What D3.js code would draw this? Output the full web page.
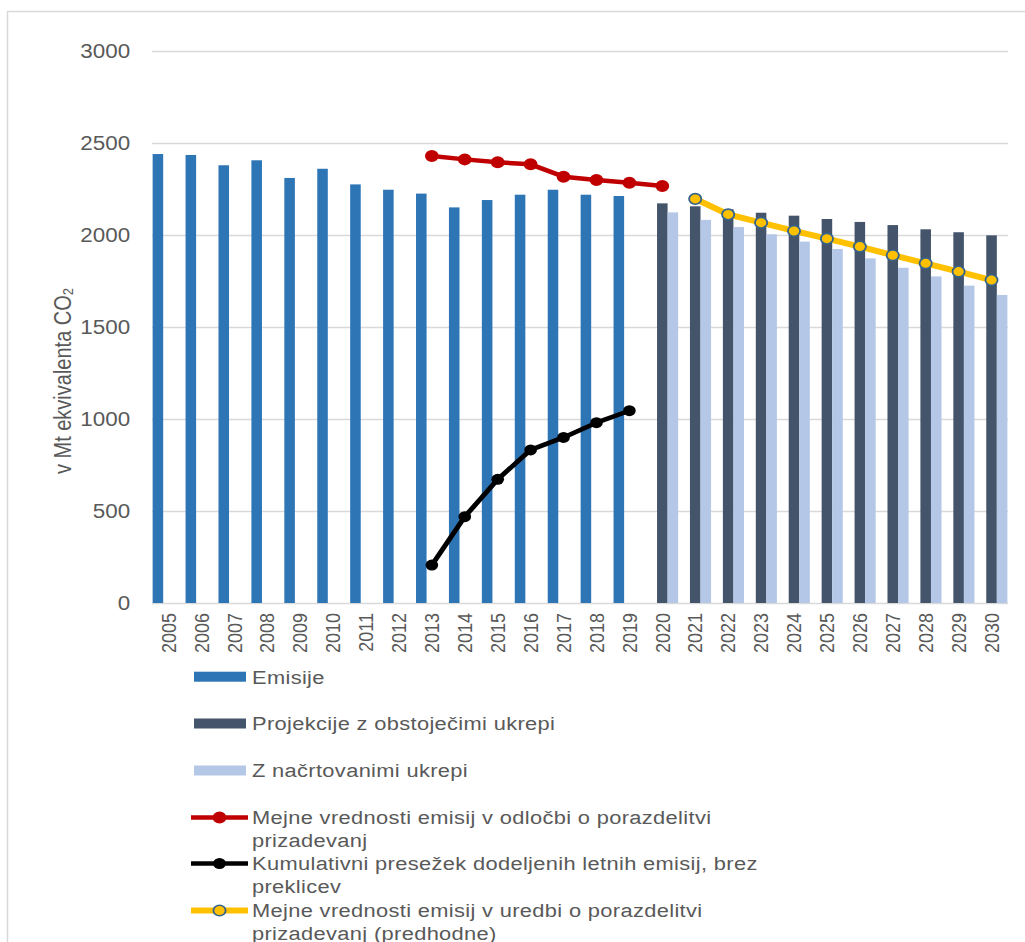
<!DOCTYPE html>
<html>
<head>
<meta charset="utf-8">
<script src="https://cdn.jsdelivr.net/npm/d3@7"></script>
<style>
  body { margin: 0; background: #fff; }
  text { font-family: "Liberation Sans", Arial, sans-serif; fill: #595959; }
</style>
</head>
<body>
<div id="chart"></div>
<script>
// categories
var years = ["2005", "2006", "2007", "2008", "2009", "2010", "2011", "2012", "2013",
    "2014", "2015", "2016", "2017", "2018", "2019", "2020", "2021", "2022", "2023",
    "2024", "2025", "2026", "2027", "2028", "2029", "2030"];
var yTicks = [0, 500, 1000, 1500, 2000, 2500, 3000];

// bar series
var emisijeYears = ["2005", "2006", "2007", "2008", "2009", "2010", "2011", "2012",
    "2013", "2014", "2015", "2016", "2017", "2018", "2019"];
var emisije = [2440, 2435, 2379, 2406, 2310, 2360, 2275, 2246, 2225, 2150, 2190, 2219, 2246, 2219, 2212];

var projYears = ["2020", "2021", "2022", "2023", "2024", "2025", "2026", "2027", "2028", "2029", "2030"];
var projekcije = [2172, 2156, 2140, 2121, 2105, 2087, 2071, 2054, 2031, 2015, 1998];
var nacrtovani = [2123, 2082, 2043, 2004, 1964, 1924, 1873, 1822, 1775, 1725, 1674];

// line series
var odlocbaYears = ["2013", "2014", "2015", "2016", "2017", "2018", "2019", "2020"];
var odlocba = [2429, 2411, 2395, 2384, 2317, 2299, 2284, 2266];

var presezekYears = ["2013", "2014", "2015", "2016", "2017", "2018", "2019"];
var presezek = [206, 469, 672, 832, 900, 980, 1045];

var uredbaYears = ["2021", "2022", "2023", "2024", "2025", "2026", "2027", "2028", "2029", "2030"];
var uredba = [2196, 2112, 2067, 2022, 1980, 1937, 1890, 1846, 1801, 1755];

var barKeys = ["emisije", "projekcije", "nacrtovani"];

var width = 1025;
var height = 942;
var S = 1.15; // the picture is stretched sideways
var left = 152, right = 1008;

var svg = d3.select("#chart")
    .append("svg")
    .attr("width", width)
    .attr("height", height);

// outer frame
svg.append("rect")
    .attr("x", 7.5).attr("y", 11.5)
    .attr("width", 1040).attr("height", 960)
    .attr("fill", "none")
    .attr("stroke", "#d9d9d9")
    .attr("stroke-width", 1.5);

var g = svg.append("g").attr("transform", `scale(${S},1)`);

var x0 = d3.scaleBand().domain(years).range([left / S, right / S]);
var x1 = d3.scaleBand().domain(barKeys).range([0, x0.bandwidth()]).paddingOuter(0.06);
var y = d3.scaleLinear().domain([0, 3000]).range([603, 51]);

// y axis with gridlines
var yAxis = g.append("g")
    .attr("transform", `translate(${left / S},0)`)
    .call(d3.axisLeft(y).tickValues(yTicks).tickFormat(d3.format("d"))
        .tickSize(-(right - left) / S).tickPadding(19));
yAxis.select(".domain").remove();
yAxis.selectAll(".tick line").attr("stroke", "#d9d9d9").attr("stroke-width", 1.6);
yAxis.selectAll(".tick text")
    .attr("font-size", 19.5)
    .attr("fill", "#595959")
    .style("font-family", "'Liberation Sans', Arial, sans-serif");

// x axis labels
var xAxis = g.append("g")
    .attr("transform", "translate(0,603)")
    .call(d3.axisBottom(x0).tickSize(0));
xAxis.select(".domain").remove();
xAxis.selectAll(".tick text")
    .attr("font-size", 18)
    .attr("fill", "#595959")
    .style("font-family", "'Liberation Sans', Arial, sans-serif")
    .attr("transform", "rotate(-90)")
    .attr("x", -10)
    .attr("y", 0)
    .attr("dy", "0.35em")
    .style("text-anchor", "end");

// y axis title
var yTitle = g.append("text")
    .attr("transform", `translate(${62 / S},381) rotate(-90)`)
    .attr("text-anchor", "middle")
    .attr("dominant-baseline", "central")
    .attr("font-size", 20);
yTitle.append("tspan").text("v Mt ekvivalenta CO");
yTitle.append("tspan").attr("font-size", 13).attr("dy", 5).text("2");

// bars
var barSeries = [
    {key: "emisije", yrs: emisijeYears, vals: emisije, color: "#2e75b6"},
    {key: "projekcije", yrs: projYears, vals: projekcije, color: "#44546a"},
    {key: "nacrtovani", yrs: projYears, vals: nacrtovani, color: "#b4c7e7"}
];

barSeries.forEach(function (s) {
    var rows = s.yrs.map(function (yr, i) { return {year: yr, value: s.vals[i]}; });
    g.append("g").selectAll("rect")
        .data(rows).enter()
        .append("rect")
        .attr("x", function (d) { return x0(d.year) + x1(s.key); })
        .attr("width", x1.bandwidth())
        .attr("y", function (d) { return y(d.value); })
        .attr("height", function (d) { return y(0) - y(d.value); })
        .attr("fill", s.color);
});

// lines
var lineSeries = [
    {yrs: odlocbaYears, vals: odlocba, color: "#c00000", width: 4.5, r: 6, fill: "#c00000", stroke: "none"},
    {yrs: presezekYears, vals: presezek, color: "#000000", width: 4.5, r: 5.5, fill: "#000000", stroke: "none"},
    {yrs: uredbaYears, vals: uredba, color: "#ffc000", width: 6, r: 5.3, fill: "#ffc000", stroke: "#35648e"}
];

var line = d3.line()
    .x(function (d) { return x0(d.year) + x0.bandwidth() / 2; })
    .y(function (d) { return y(d.value); });

lineSeries.forEach(function (s) {
    var rows = s.yrs.map(function (yr, i) { return {year: yr, value: s.vals[i]}; });
    g.append("path")
        .datum(rows)
        .attr("d", line)
        .attr("fill", "none")
        .attr("stroke", s.color)
        .attr("stroke-width", s.width)
        .attr("stroke-linejoin", "round");
    g.append("g").selectAll("circle")
        .data(rows).enter()
        .append("circle")
        .attr("cx", function (d) { return x0(d.year) + x0.bandwidth() / 2; })
        .attr("cy", function (d) { return y(d.value); })
        .attr("r", s.r)
        .attr("fill", s.fill)
        .attr("stroke", s.stroke)
        .attr("stroke-width", 1.6);
});

// legend
var legendBars = [
    {label: "Emisije", color: "#2e75b6", y: 676.7},
    {label: "Projekcije z obstoječimi ukrepi", color: "#44546a", y: 723.5},
    {label: "Z načrtovanimi ukrepi", color: "#b4c7e7", y: 770.5}
];
legendBars.forEach(function (l) {
    g.append("rect")
        .attr("x", 194 / S).attr("y", l.y - 5)
        .attr("width", 52 / S).attr("height", 10)
        .attr("fill", l.color);
    g.append("text")
        .attr("x", 252 / S).attr("y", l.y)
        .attr("dominant-baseline", "central")
        .attr("font-size", 19)
        .attr("letter-spacing", 0.3)
        .text(l.label);
});

var legendLines = [
    {lines: ["Mejne vrednosti emisij v odločbi o porazdelitvi", "prizadevanj"], s: lineSeries[0], y: 817.5},
    {lines: ["Kumulativni presežek dodeljenih letnih emisij, brez", "preklicev"], s: lineSeries[1], y: 863.5},
    {lines: ["Mejne vrednosti emisij v uredbi o porazdelitvi", "prizadevanj (predhodne)"], s: lineSeries[2], y: 910.5}
];
legendLines.forEach(function (l) {
    g.append("line")
        .attr("x1", 191 / S).attr("x2", 248 / S)
        .attr("y1", l.y).attr("y2", l.y)
        .attr("stroke", l.s.color)
        .attr("stroke-width", l.s.width);
    g.append("circle")
        .attr("cx", 219.5 / S).attr("cy", l.y)
        .attr("r", l.s.r)
        .attr("fill", l.s.fill)
        .attr("stroke", l.s.stroke)
        .attr("stroke-width", 1.6);
    l.lines.forEach(function (t, i) {
        g.append("text")
            .attr("x", 252 / S).attr("y", l.y + i * 22.5)
            .attr("dominant-baseline", "central")
            .attr("font-size", 19)
            .attr("letter-spacing", 0.3)
            .text(t);
    });
});
</script>
</body>
</html>
